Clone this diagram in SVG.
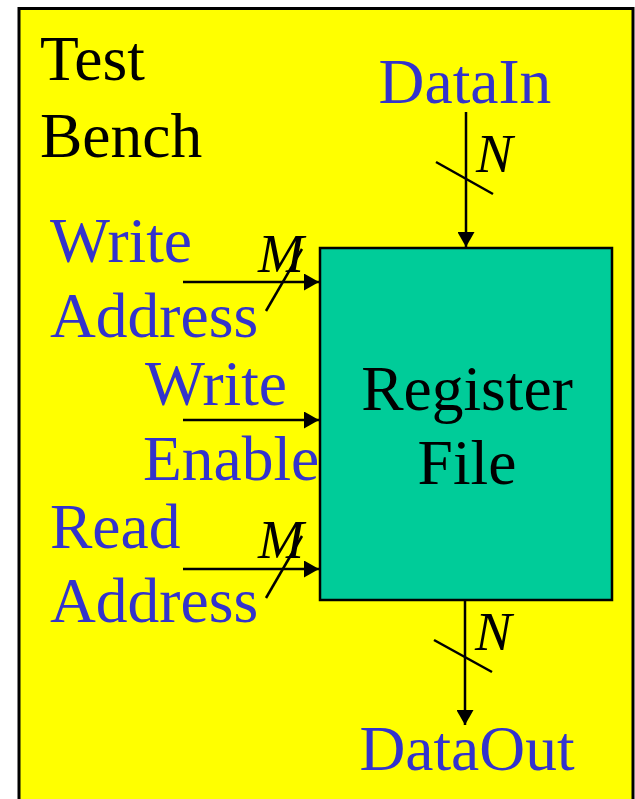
<svg xmlns="http://www.w3.org/2000/svg" width="635" height="799" viewBox="0 0 635 799">
<defs>
<marker id="ah" markerWidth="15" markerHeight="17" refX="15" refY="8.5" orient="auto" markerUnits="userSpaceOnUse">
<path d="M0,0 L15,8.5 L0,17 Z" fill="#000"/>
</marker>
<style>
.t{font-family:"Liberation Serif","Times New Roman",serif;font-size:63.5px}
.blk{fill:#000}
.blu{fill:#3333CC}
.it{font-family:"Liberation Serif","Times New Roman",serif;font-size:55px;font-style:italic;fill:#000}
.ln{stroke:#000;stroke-width:2.5;fill:none}
</style>
</defs>
<rect x="0" y="0" width="635" height="799" fill="#fff"/>
<g id="testbench">
<rect x="19" y="8.5" width="614" height="800" fill="#FFFF00" stroke="#000" stroke-width="3"/>
<text class="t blk" x="40" y="80">Test</text>
<text class="t blk" x="40" y="157">Bench</text>
</g>
<g id="regfile">
<rect x="320" y="248" width="292" height="352" fill="#00CC99" stroke="#000" stroke-width="2.5"/>
<text class="t blk" x="467" y="410" text-anchor="middle">Register</text>
<text class="t blk" x="467" y="484" text-anchor="middle">File</text>
</g>
<g id="datain"><text class="t blu" x="465" y="103" text-anchor="middle">DataIn</text></g>
<g id="writeaddress"><text class="t blu" x="50" y="262">Write</text><text class="t blu" x="50" y="337">Address</text></g>
<g id="writeenable"><text class="t blu" x="145" y="405">Write</text><text class="t blu" x="143" y="480">Enable</text></g>
<g id="readaddress"><text class="t blu" x="50" y="548">Read</text><text class="t blu" x="50" y="622">Address</text></g>
<g id="dataout"><text class="t blu" x="467" y="770" text-anchor="middle">DataOut</text></g>
<g id="connectors">
<line class="ln" x1="466" y1="112" x2="466" y2="247" marker-end="url(#ah)"/>
<line class="ln" x1="436" y1="162" x2="493" y2="194"/>
<text class="it" x="476" y="172">N</text>
<line class="ln" x1="183" y1="282" x2="319" y2="282" marker-end="url(#ah)"/>
<line class="ln" x1="266" y1="311" x2="302" y2="249"/>
<text class="it" x="258" y="272">M</text>
<line class="ln" x1="183" y1="420" x2="319" y2="420" marker-end="url(#ah)"/>
<line class="ln" x1="183" y1="569" x2="319" y2="569" marker-end="url(#ah)"/>
<line class="ln" x1="266" y1="598" x2="302" y2="536"/>
<text class="it" x="258" y="558">M</text>
<line class="ln" x1="465" y1="600" x2="465" y2="725" marker-end="url(#ah)"/>
<line class="ln" x1="434" y1="640" x2="492" y2="672"/>
<text class="it" x="475" y="650">N</text>
</g>
</svg>
